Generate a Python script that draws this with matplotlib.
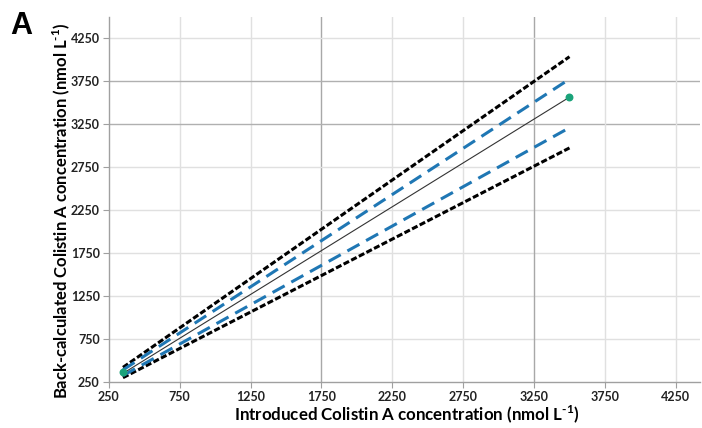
import matplotlib
matplotlib.use("Agg")
import matplotlib.pyplot as plt

# data
conc = [350, 3500]
fit_line = [350, 3560]
upper_outer = [420, 4030]
lower_outer = [300, 2970]
upper_inner = [390, 3770]
lower_inner = [325, 3205]
points_x = [350, 3500]
points_y = [362, 3562]
ticks = [250, 750, 1250, 1750, 2250, 2750, 3250, 3750, 4250]

plt.rcParams["font.family"] = ["Lato", "DejaVu Sans"]
plt.rcParams["mathtext.fontset"] = "custom"
plt.rcParams["mathtext.rm"] = "Lato:bold"
plt.rcParams["mathtext.bf"] = "Lato:bold"

fig = plt.figure(figsize=(7.02, 4.28), dpi=100)
ax = fig.add_axes([0.155, 0.1075, 0.842, 0.8525])

ax.set_xlim(250, 4420)
ax.set_ylim(250, 4490)
ax.set_xticks(ticks)
ax.set_yticks(ticks)

# grid, a few lines a bit darker as in the source
dark_x = {1750, 3250}
dark_y = {3250, 3750}
for t in ticks[1:]:
    ax.axvline(t, color="#a8a8a8" if t in dark_x else "#e0e0e0", lw=1.0, zorder=0)
    ax.axhline(t, color="#b0b0b0" if t in dark_y else "#e0e0e0", lw=1.0, zorder=0)

ax.plot(conc, upper_outer, color="black", lw=2.2, ls=(0, (2.0, 0.8)))
ax.plot(conc, lower_outer, color="black", lw=2.2, ls=(0, (2.0, 0.8)))
ax.plot(conc, upper_inner, color="#1f77b4", lw=2.2, ls=(0, (4.5, 2.5)))
ax.plot(conc, lower_inner, color="#1f77b4", lw=2.2, ls=(0, (4.5, 2.5)))
ax.plot(conc, fit_line, color="#333333", lw=0.8)
ax.scatter(points_x, points_y, s=22, color="#1aa37a", zorder=5)

for s in ["top", "right"]:
    ax.spines[s].set_visible(False)
for s in ["left", "bottom"]:
    ax.spines[s].set_color("#a0a0a0")
    ax.spines[s].set_linewidth(1.0)

ax.tick_params(length=4, color="#a0a0a0", labelsize=9, pad=2.5)
for lab in ax.get_xticklabels() + ax.get_yticklabels():
    lab.set_fontweight("bold")
    lab.set_color("#222222")

sup = r"$^{\text{-1}}$"
fig.text(407 / 702, 1 - 414 / 428, "Introduced Colistin A concentration (nmol L" + sup + ")",
         fontsize=12.2, fontweight="bold", ha="center", va="center")
fig.text(61 / 702, 1 - 211 / 428, "Back-calculated Colistin A concentration (nmol L" + sup + ")",
         fontsize=12, fontweight="bold", ha="center", va="center", rotation=90)

fig.text(0.015, 0.94, "A", fontsize=22, fontweight="bold", va="center",
         family=["Liberation Sans", "DejaVu Sans"])

fig.savefig("out.png", dpi=100)
